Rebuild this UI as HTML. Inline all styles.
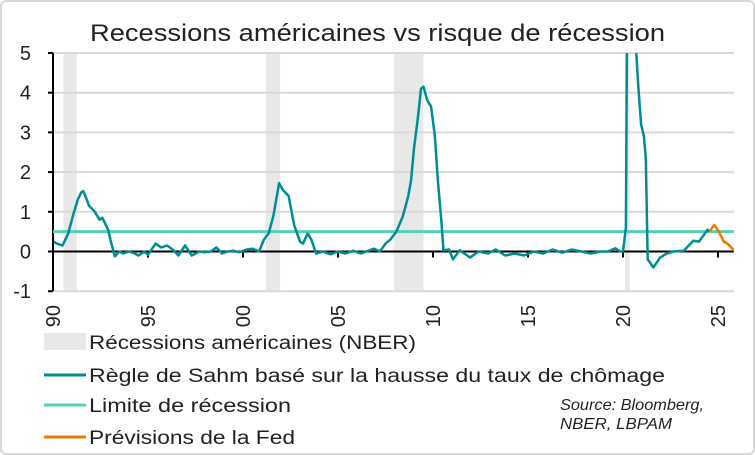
<!DOCTYPE html>
<html><head><meta charset="utf-8"><style>
html,body{margin:0;padding:0;background:#fff;}
body{width:755px;height:455px;overflow:hidden;font-family:"Liberation Sans",sans-serif;}
#frame{position:absolute;left:0;top:0;width:751px;height:451px;border:2px solid #d9d9d9;border-radius:6px;}
</style></head><body>
<div id="frame"></div>
<svg id="chart" width="755" height="455" style="position:absolute;left:0;top:0">
<text x="90" y="41" font-size="24" fill="#222" textLength="575" lengthAdjust="spacingAndGlyphs">Recessions américaines vs risque de récession</text>
<g id="rec"></g>
<g id="grid"></g>
<g id="axes"></g>
<g id="series"></g>
<g id="legend">
<rect x="44" y="333" width="42" height="17" fill="#e8e8e8"/>
<text x="89" y="349" font-size="19" fill="#222" textLength="327" lengthAdjust="spacingAndGlyphs">Récessions américaines (NBER)</text>
<line x1="44" y1="375" x2="86" y2="375" stroke="#008c95" stroke-width="3"/>
<text x="89" y="382" font-size="19" fill="#222" textLength="576" lengthAdjust="spacingAndGlyphs">Règle de Sahm basé sur la hausse du taux de chômage</text>
<line x1="44" y1="405" x2="86" y2="405" stroke="#55d0b5" stroke-width="3"/>
<text x="89" y="412" font-size="19" fill="#222" textLength="202" lengthAdjust="spacingAndGlyphs">Limite de récession</text>
<line x1="44" y1="437" x2="86" y2="437" stroke="#f07800" stroke-width="3"/>
<text x="89" y="444" font-size="19" fill="#222" textLength="206" lengthAdjust="spacingAndGlyphs">Prévisions de la Fed</text>
</g>
<g font-style="italic" font-size="16" fill="#222">
<text x="560" y="410" textLength="144" lengthAdjust="spacingAndGlyphs">Source: Bloomberg,</text>
<text x="560" y="429" textLength="112" lengthAdjust="spacingAndGlyphs">NBER, LBPAM</text>
</g>
</svg>
<script>
const yTicks=[-1,0,1,2,3,4,5];
const xTickYears=[1990,1995,2000,2005,2010,2015,2020,2025];
const xTickLabels=["90","95","00","05","10","15","20","25"];
const recStart=[1990.55,2001.2,2007.95,2020.1];
const recEnd=[1991.25,2001.95,2009.5,2020.35];
const limitValue=0.5;
const sahmYears=[1990.05,1990.2,1990.5,1990.8,1991.05,1991.3,1991.5,1991.6,1991.9,1992.2,1992.45,1992.6,1992.9,1993.05,1993.25,1993.5,1993.7,1994.0,1994.3,1994.5,1994.8,1995.0,1995.4,1995.7,1996.0,1996.3,1996.6,1996.95,1997.3,1997.7,1998.0,1998.3,1998.6,1998.9,1999.2,1999.5,1999.8,2000.2,2000.5,2000.85,2001.1,2001.35,2001.6,2001.9,2002.1,2002.4,2002.7,2003.0,2003.15,2003.4,2003.6,2003.85,2004.2,2004.6,2005.0,2005.4,2005.8,2006.2,2006.6,2006.9,2007.2,2007.5,2007.75,2008.07,2008.4,2008.7,2008.85,2009.0,2009.2,2009.37,2009.5,2009.7,2009.9,2010.1,2010.25,2010.45,2010.55,2010.85,2011.05,2011.4,2011.95,2012.4,2012.9,2013.3,2013.8,2014.3,2014.8,2015.3,2015.8,2016.3,2016.8,2017.3,2017.8,2018.3,2018.8,2019.2,2019.6,2019.85,2020.0,2020.15,2020.3,2020.5,2020.7,2020.8,2020.95,2021.1,2021.2,2021.3,2021.6,2021.95,2022.3,2022.65,2023.2,2023.7,2024.0,2024.45,2024.55];
const sahmValues=[0.25,0.2,0.15,0.45,0.9,1.3,1.5,1.52,1.15,1.0,0.8,0.85,0.55,0.25,-0.12,0,-0.05,0,-0.05,-0.1,0,-0.08,0.2,0.1,0.15,0.05,-0.1,0.15,-0.1,0,-0.02,0,0.1,-0.05,0,0.02,-0.02,0.05,0.07,0,0.3,0.45,0.9,1.72,1.55,1.4,0.65,0.25,0.2,0.45,0.3,-0.05,0,-0.07,0,-0.05,0.02,-0.05,0.02,0.07,0,0.2,0.3,0.5,0.87,1.4,1.8,2.6,3.35,4.1,4.15,3.8,3.65,2.9,1.8,0.7,0.03,0.05,-0.2,0.03,-0.15,0,-0.05,0.05,-0.1,-0.05,-0.1,0,-0.05,0.05,-0.03,0.05,0,-0.05,0,0,0.08,0,0,0.6,13,8,5,4.2,3.2,2.9,2.35,-0.2,-0.4,-0.15,-0.05,0,0.02,0.27,0.25,0.55,0.5];
const fedYears=[2024.55,2024.8,2025.05,2025.3,2025.5,2025.9];
const fedValues=[0.5,0.67,0.5,0.25,0.2,0];

const L=53,R=734,yTop=53,yBot=291;
const x=v=>L+(v-1990)*19;
const y=v=>251.5-v*39.7;
const NS="http://www.w3.org/2000/svg";
function mk(tag,parent,attrs){const e=document.createElementNS(NS,tag);for(const k in attrs)e.setAttribute(k,attrs[k]);parent.appendChild(e);return e;}
const svg=document.getElementById('chart');
const defs=mk('defs',svg,{});
const cp=mk('clipPath',defs,{id:'plotclip'});
mk('rect',cp,{x:L,y:yTop,width:R-L,height:yBot-yTop});
const rec=document.getElementById('rec');
recStart.forEach((s,i)=>{
  const r=mk('rect',rec,{x:x(s),y:yTop,width:x(recEnd[i])-x(s),height:yBot-yTop,fill:'#e8e8e8'});
  
  
});
const grid=document.getElementById('grid');
const axes=document.getElementById('axes');
yTicks.forEach(t=>{
  if(t!==0){const g=mk('line',grid,{x1:L,x2:R,y1:y(t),y2:y(t),stroke:'#d9d9d9','stroke-width':2});
  
  }
  mk('line',axes,{x1:L-5,x2:L,y1:y(t),y2:y(t),stroke:'#000','stroke-width':2});
  const tx=mk('text',axes,{x:31,y:y(t)+7,'text-anchor':'end','font-size':20,fill:'#222'});
  tx.textContent=t;
  
  
});
mk('line',axes,{x1:L,x2:L,y1:yTop,y2:yBot,stroke:'#000','stroke-width':2});
mk('line',axes,{x1:L,x2:R,y1:y(0),y2:y(0),stroke:'#000','stroke-width':2});
xTickYears.forEach((t,i)=>{
  mk('line',axes,{x1:x(t),x2:x(t),y1:y(0),y2:y(0)+6,stroke:'#000','stroke-width':2});
  const tx=mk('text',axes,{x:0,y:0,'text-anchor':'end','font-size':20,fill:'#222',transform:`translate(${x(t)+7},305) rotate(-90)`});
  tx.textContent=xTickLabels[i];
  
  
});
const ser=document.getElementById('series');
const lim=mk('line',ser,{x1:L,x2:R,y1:y(limitValue),y2:y(limitValue),stroke:'#55d0b5','stroke-width':3});


const pts=(xs,vs)=>xs.map((v,i)=>x(v).toFixed(1)+','+y(vs[i]).toFixed(1)).join(' ');
const sahm=mk('polyline',ser,{points:pts(sahmYears,sahmValues),fill:'none',stroke:'#008c95','stroke-width':2.5,'stroke-linejoin':'round','clip-path':'url(#plotclip)'});


const fed=mk('polyline',ser,{points:pts(fedYears,fedValues),fill:'none',stroke:'#f07800','stroke-width':2.5,'stroke-linejoin':'round','clip-path':'url(#plotclip)'});


</script>
</body></html>
